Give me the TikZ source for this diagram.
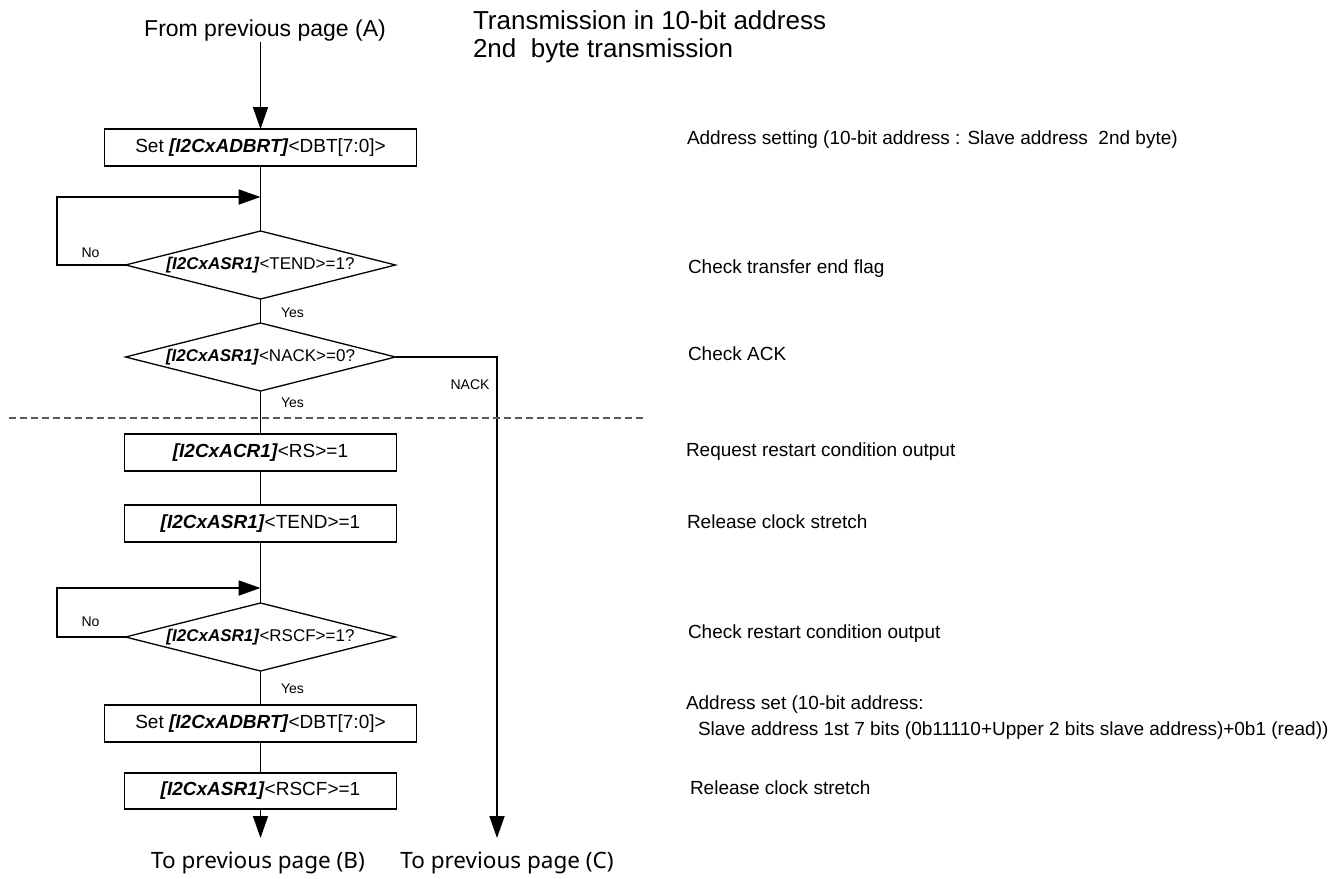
\documentclass[tikz,border=0pt]{standalone}
\usepackage{fontspec}
\setmainfont{Liberation Sans}
\newfontfamily\notosans{Noto Sans}
\usetikzlibrary{arrows.meta,shapes.geometric}
\newcommand{\reg}[1]{\textbf{\textit{#1}}}
\begin{document}
\begin{tikzpicture}[x=1pt,y=-1pt,
  every node/.style={inner sep=0pt, outer sep=0pt},
  boxn/.style={draw, line width=1.3pt, minimum width=#1, minimum height=37pt, font=\fontsize{19}{22}\selectfont},
  dia/.style={draw, shape=diamond, aspect=3.97, minimum width=270pt, minimum height=68pt, line width=1.3pt, font=\fontsize{17}{20}\selectfont},
  conn/.style={line width=1.5pt},
  thick conn/.style={line width=1.9pt},
  arr/.style={-{Triangle[length=22pt,width=15pt]}},
  lab/.style={font=\fontsize{14}{16}\selectfont},
  note/.style={anchor=west, font=\fontsize{19}{22}\selectfont},
  titletext/.style={anchor=base west, font=\fontsize{26}{30}\selectfont},
  pagetext/.style={font=\notosans\fontsize{22.5}{26}\selectfont},
  sep/.style={line width=1.4pt, draw=black!65, dash pattern=on 7pt off 4pt}
]
\useasboundingbox (0,0) rectangle (1341,878);

% title
\node[titletext] (t1) at (473,29) {Transmission in 10-bit address};
\node[titletext] (t2) at (473,57) {2nd\ \ byte transmission};

% start
\node[anchor=base, font=\fontsize{23}{26}\selectfont, inner sep=1pt] (from) at (265,36) {From previous page (A)};

% flow nodes
\node[boxn=312pt] (b1) at (260.5,147.5) {Set \reg{[I2CxADBRT]}<DBT[7:0]>};
\node[dia] (d1) at (260.5,265) {\reg{[I2CxASR1]}<TEND>=1?};
\node[dia] (d2) at (260.5,357) {\reg{[I2CxASR1]}<NACK>=0?};
\node[boxn=272pt] (b3) at (260.5,452.5) {\reg{[I2CxACR1]}<RS>=1};
\node[boxn=272pt] (b4) at (260.5,523.5) {\reg{[I2CxASR1]}<TEND>=1};
\node[dia] (d3) at (260.5,637) {\reg{[I2CxASR1]}<RSCF>=1?};
\node[boxn=312pt] (b5) at (260.5,723.5) {Set \reg{[I2CxADBRT]}<DBT[7:0]>};
\node[boxn=272pt, minimum height=36pt] (b6) at (260.5,791) {\reg{[I2CxASR1]}<RSCF>=1};

% coordinates
\coordinate (l1) at (57,197);
\coordinate (j1) at (260.5,197);
\coordinate (l2) at (57,588);
\coordinate (j2) at (260.5,588);
\coordinate (eB) at (260.5,838);
\coordinate (eC) at (497,838);
\coordinate (s1) at (9,418);
\coordinate (s2) at (646,418);

% connectors
\draw[conn, arr] (from.south -| b1.north) -- (b1.north);
\draw[conn] (b1.south) -- (d1.north);
\draw[thick conn, arr] (d1.west) -| (l1) -- (j1);
\draw[conn] (d1.south) -- (d2.north);
\draw[conn] (d2.south) -- (b3.north);
\draw[conn] (b3.south) -- (b4.north);
\draw[conn] (b4.south) -- (d3.north);
\draw[thick conn, arr] (d3.west) -| (l2) -- (j2);
\draw[conn] (d3.south) -- (b5.north);
\draw[conn] (b5.south) -- (b6.north);
\draw[conn, arr] (b6.south) -- (eB);
\draw[thick conn, arr] (d2.east) -| (eC);

% separator
\draw[sep] (s1) -- (s2);

% labels
\node[lab] (no1) at (90.5,253) {No};
\node[lab] (no2) at (90.5,622) {No};
\node[lab, anchor=west] (yes1) at (281,313) {Yes};
\node[lab, anchor=west] (yes2) at (281,403) {Yes};
\node[lab, anchor=west] (yes3) at (281,689) {Yes};
\node[lab] (nack) at (470,385) {NACK};

% end texts
\node[pagetext] (toB) at (258,863) {To previous page (B)};
\node[pagetext] (toC) at (507,863) {To previous page (C)};

% notes
\node[note] (n1) at (687,140) {Address setting (10-bit address : Slave address\ \ 2nd byte)};
\node[note] (n2) at (688,269) {Check transfer end flag};
\node[note] (n3) at (688,354) {Check ACK};
\node[note] (n4) at (686,452) {Request restart condition output};
\node[note] (n5) at (687,522) {Release clock stretch};
\node[note] (n6) at (688,634) {Check restart condition output};
\node[note] (n7) at (686,705) {Address set (10-bit address:};
\node[note] (n8) at (698,731) {Slave address 1st 7 bits (0b11110+Upper 2 bits slave address)+0b1 (read))};
\node[note] (n9) at (690,788) {Release clock stretch};
\end{tikzpicture}
\end{document}
